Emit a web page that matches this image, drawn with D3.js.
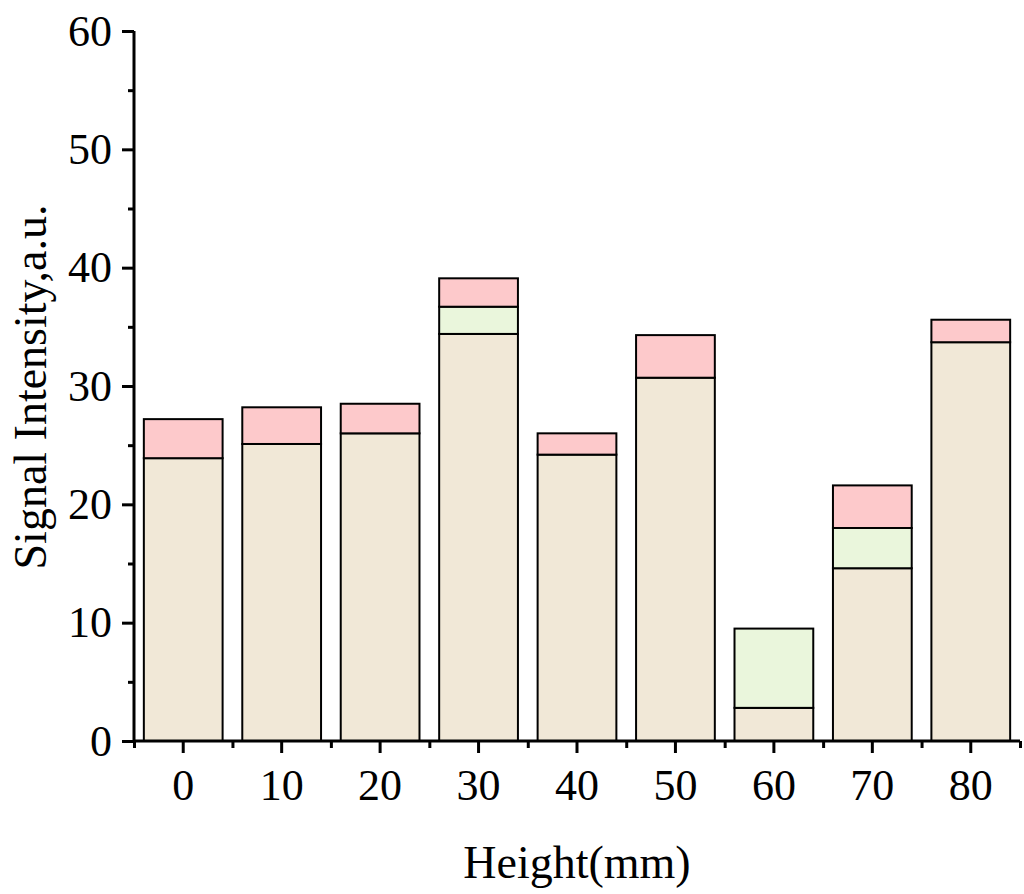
<!DOCTYPE html>
<html><head><meta charset="utf-8">
<script src="https://cdn.jsdelivr.net/npm/d3@7"></script>
<style>body{margin:0;background:#fff}</style>
</head><body>
<svg id="c" width="1024" height="894"></svg>
<script>
const categories = ["0","10","20","30","40","50","60","70","80"];
const baseValues  = [23.9, 25.1, 26.0, 34.4, 24.2, 30.7, 2.8, 14.6, 33.7];
const greenValues = [0, 0, 0, 2.3, 0, 0, 6.7, 3.4, 0];
const pinkValues  = [3.3, 3.1, 2.5, 2.4, 1.8, 3.6, 0, 3.6, 1.9];
const yTicks = [0,10,20,30,40,50,60];
const yMinorTicks = [5,15,25,35,45,55];
const seriesKeys = ["base","green","pink"];
const colors = {base:"#F1E8D7", green:"#EAF6DC", pink:"#FDC9CB"};

const svg = d3.select("#c");
const L = 134, R = 1020, T = 31, B = 741;
const font = "'Liberation Serif','Times New Roman',serif";

const x = d3.scaleBand().domain(categories).range([L,R]).paddingInner(0.2).paddingOuter(0.1);
const y = d3.scaleLinear().domain([0,60]).range([B,T]);

const rows = categories.map((c,i)=>({cat:c, base:baseValues[i], green:greenValues[i], pink:pinkValues[i]}));
const stacked = d3.stack().keys(seriesKeys)(rows);

svg.append("g").selectAll("g").data(stacked).join("g")
  .attr("fill", d=>colors[d.key])
  .selectAll("rect").data(d=>d.filter(p=>p[1]-p[0]>0)).join("rect")
  .attr("x", d=>x(d.data.cat))
  .attr("width", x.bandwidth())
  .attr("y", d=>y(d[1]))
  .attr("height", d=>y(d[0])-y(d[1]))
  .attr("stroke","#000").attr("stroke-width",2);

// y axis
const yAxis = svg.append("g").attr("transform",`translate(${L},0)`)
  .call(d3.axisLeft(y).tickValues(yTicks).tickSize(12).tickPadding(10).tickFormat(d3.format("d")));
svg.append("g").attr("transform",`translate(${L},0)`)
  .call(d3.axisLeft(y).tickValues(yMinorTicks).tickSize(6).tickFormat(""))
  .call(g=>g.select(".domain").remove());

// x axis
const xAxis = svg.append("g").attr("transform",`translate(0,${B})`)
  .call(d3.axisBottom(x).tickSize(12).tickPadding(16));
const minorX = d3.scaleLinear().domain([0,categories.length]).range([L,R]);
svg.append("g").attr("transform",`translate(0,${B})`)
  .call(d3.axisBottom(minorX).tickValues(d3.range(0,categories.length+1)).tickSize(7).tickFormat(""))
  .call(g=>g.select(".domain").remove());

svg.selectAll(".domain").attr("stroke","#000").attr("stroke-width",3);
svg.selectAll(".tick line").attr("stroke","#000").attr("stroke-width",3);
svg.selectAll(".tick text").attr("font-family",font).attr("font-size",44).attr("fill","#000");
yAxis.select(".domain").attr("d",`M0,${B}V${T}`);
xAxis.select(".domain").attr("d",`M${L},0H${R}`);

svg.append("text").attr("x",(L+R)/2).attr("y",878).attr("text-anchor","middle")
  .attr("font-family",font).attr("font-size",46).text("Height(mm)");
svg.append("text").attr("transform","translate(46,387) rotate(-90)").attr("text-anchor","middle")
  .attr("font-family",font).attr("font-size",46).text("Signal Intensity,a.u.");
</script>
</body></html>
